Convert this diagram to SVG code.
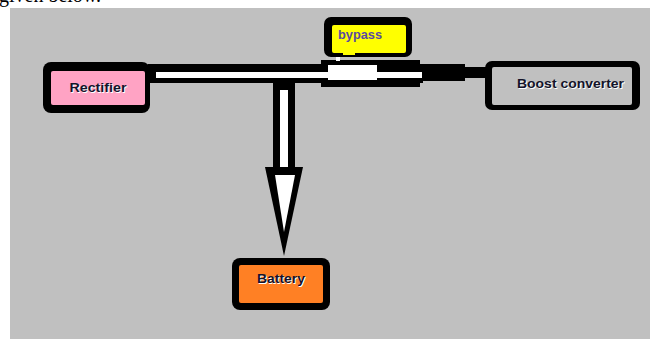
<svg xmlns="http://www.w3.org/2000/svg" width="650" height="339" viewBox="0 0 650 339">
  <style>
    .outer { fill: #000; }
    .lbl { font-family: "Liberation Sans", Arial, sans-serif; font-size: 12px; font-weight: bold; fill: #14142a; }
    .shadow { fill: #ffffff; }
  </style>
  <rect x="0" y="0" width="650" height="339" fill="#ffffff"/>
  <text x="-1" y="2" font-family="Liberation Serif, serif" font-size="20" fill="#000">given below.</text>
  <rect x="10" y="8" width="640" height="331" fill="#c0c0c0"/>

  <g id="connectors">
    <!-- horizontal bar black outline -->
    <rect x="148" y="64" width="275" height="19" fill="#000"/>
    <rect x="321" y="60" width="99" height="27" fill="#000"/>
    <rect x="420" y="64" width="45" height="17" fill="#000"/>
    <rect x="465" y="67" width="24" height="11" fill="#000"/>
    <!-- white core -->
    <rect x="156" y="72" width="266" height="6" fill="#fff"/>
    <rect x="328" y="65" width="49" height="15" fill="#fff"/>
    <rect x="336" y="57" width="4" height="4" fill="#fff"/>
    <!-- vertical arrow -->
    <rect x="273" y="80" width="22" height="92" fill="#000"/>
    <rect x="280" y="90" width="8" height="86" fill="#fff"/>
    <polygon points="265,167 303,167 284,256" fill="#000"/>
    <polygon points="275,175 295,175 284,232" fill="#fff"/>
  </g>

  <g id="rectifier">
    <rect class="outer" x="43" y="62" width="107" height="51" rx="8"/>
    <rect x="51" y="71" width="94" height="34" rx="2" fill="#ffa3c4"/>
    <text class="lbl shadow" x="99" y="93" text-anchor="middle" textLength="57" lengthAdjust="spacingAndGlyphs">Rectifier</text>
    <text class="lbl" x="98" y="92" text-anchor="middle" textLength="57" lengthAdjust="spacingAndGlyphs">Rectifier</text>
  </g>

  <g id="bypass">
    <rect class="outer" x="324" y="17" width="88" height="40" rx="7"/>
    <rect x="332" y="25" width="74" height="28" rx="2" fill="#ffff00"/>
    <rect x="343" y="50" width="12" height="5" fill="#ffff00"/>
    <text x="338" y="39" font-family="Liberation Sans, Arial, sans-serif" font-size="12" font-weight="bold" fill="#5a4aa0" textLength="44" lengthAdjust="spacingAndGlyphs">bypass</text>
  </g>

  <g id="boost">
    <rect class="outer" x="485" y="61" width="155" height="49" rx="7"/>
    <rect x="492" y="67" width="140" height="38" rx="2" fill="#c0c0c0"/>
    <text class="lbl shadow" x="518" y="89" textLength="107" lengthAdjust="spacingAndGlyphs">Boost converter</text>
    <text class="lbl" x="517" y="88" textLength="107" lengthAdjust="spacingAndGlyphs">Boost converter</text>
  </g>

  <g id="battery">
    <rect class="outer" x="232" y="258" width="98" height="52" rx="8"/>
    <rect x="239" y="265" width="84" height="38" rx="2" fill="#ff8024"/>
    <text class="lbl shadow" x="258" y="284" textLength="48" lengthAdjust="spacingAndGlyphs">Battery</text>
    <text class="lbl" x="257" y="283" textLength="48" lengthAdjust="spacingAndGlyphs">Battery</text>
  </g>
</svg>
